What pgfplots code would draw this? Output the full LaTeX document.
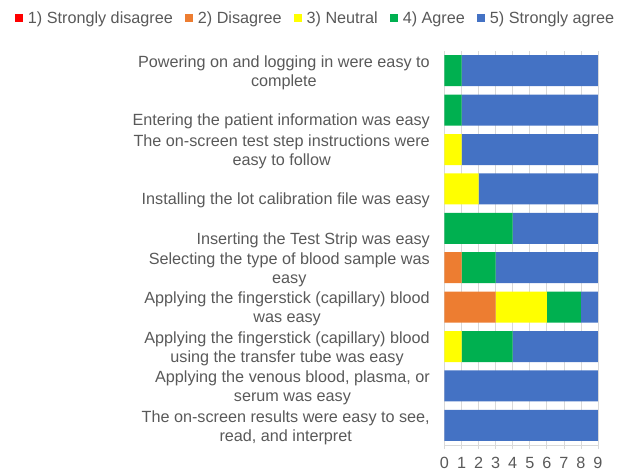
\documentclass[border=0pt]{standalone}
\usepackage{fontspec}
\setmainfont{Liberation Sans}
\usepackage{pgfplots}
\usepackage{pgfplotstable}
\pgfplotsset{compat=1.18}
\definecolor{txt}{HTML}{595959}
\definecolor{grd}{HTML}{D9D9D9}
\definecolor{cSD}{HTML}{FF0000}
\definecolor{cD}{HTML}{ED7D31}
\definecolor{cN}{HTML}{FFFF00}
\definecolor{cA}{HTML}{00B050}
\definecolor{cSA}{HTML}{4472C4}
\pgfplotstableread{
y SD D N A SA
0 0 0 0 1 8
1 0 0 0 1 8
2 0 0 1 0 8
3 0 0 2 0 7
4 0 0 0 4 5
5 0 1 0 2 6
6 0 3 3 2 1
7 0 0 1 3 5
8 0 0 0 0 9
9 0 0 0 0 9
}\datatable
\begin{document}
\begin{tikzpicture}
\useasboundingbox (-444.5bp,-26bp) rectangle (177.5bp,445bp);
\begin{axis}[
  scale only axis,
  width=153.5bp, height=394bp,
  xbar stacked,
  bar width=31bp,
  xmin=0, xmax=9,
  ymin=-0.5, ymax=9.5,
  y dir=reverse,
  xtick={0,...,9},
  ytick={0,...,9},
  yticklabels={
    {\strut Powering on and logging in were easy to\\\strut complete},
    {\strut\\\strut Entering the patient information was easy},
    {\strut The on-screen test step instructions were\\\strut easy to follow},
    {\strut\\\strut Installing the lot calibration file was easy},
    {\strut\\\strut Inserting the Test Strip was easy},
    {\strut Selecting the type of blood sample was\\\strut easy},
    {\strut Applying the fingerstick (capillary) blood\\\strut was easy},
    {\strut Applying the fingerstick (capillary) blood\\\strut using the transfer tube was easy},
    {\strut Applying the venous blood, plasma, or\\\strut serum was easy},
    {\strut The on-screen results were easy to see,\\\strut read, and interpret}},
  xmajorgrids,
  grid style={grd, line width=0.75bp},
  axis lines*=left,
  x axis line style={grd, line width=0.75bp},
  y axis line style={draw=none},
  tick align=outside,
  major tick length=4bp,
  xtick style={grd, line width=0.75bp},
  ytick style={draw=none},
  /pgf/number format/assume math mode=true,
  font={\fontsize{16.2bp}{19bp}\selectfont},
  tick label style={text=txt, font={\fontsize{16.2bp}{19bp}\selectfont}},
  yticklabel style={align=center, anchor=east, inner sep=0pt, xshift=-10.5bp, yshift=-2.5bp},
  xticklabel style={anchor=center, yshift=-14bp},
  every axis plot/.append style={draw=none},
  legend columns=5,
  legend style={draw=none, fill=none, at={(-0.840,1.0838)}, anchor=center,
    text=txt, font={\fontsize{16.2bp}{19bp}\selectfont},
    /tikz/every even column/.append style={column sep=10bp},
    /tikz/every odd column/.append style={column sep=3bp},
    nodes={inner sep=2bp}},
  legend image code/.code={\fill[#1] (0bp,-4bp) rectangle (8bp,4bp);},
]
\addplot[fill=cSD] table[x=SD, y=y] {\datatable};
\addlegendentry{1) Strongly disagree}
\addplot[fill=cD] table[x=D, y=y] {\datatable};
\addlegendentry{2) Disagree}
\addplot[fill=cN] table[x=N, y=y] {\datatable};
\addlegendentry{3) Neutral}
\addplot[fill=cA] table[x=A, y=y] {\datatable};
\addlegendentry{4) Agree}
\addplot[fill=cSA] table[x=SA, y=y] {\datatable};
\addlegendentry{5) Strongly agree}
\end{axis}
\end{tikzpicture}
\end{document}
